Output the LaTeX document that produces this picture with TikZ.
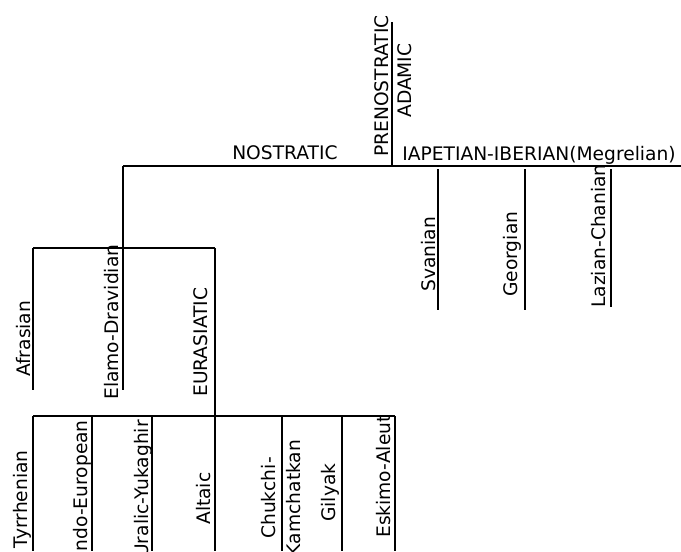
\documentclass[tikz,border=0pt]{standalone}
\usepackage{fontspec}
\setmainfont{DejaVu Sans}
\tikzset{
  lang/.style={inner sep=0pt, font=\fontsize{14}{16}\selectfont},
  vlang/.style={lang, rotate=90},
  branch/.style={line width=1.8pt},
}

\begin{document}
\begin{tikzpicture}[x=0.75pt,y=-0.75pt]
  \useasboundingbox (0,0) rectangle (681,551);
  \clip (0,0) rectangle (681,551);
  % junctions
  \coordinate (root) at (392,22);
  \coordinate (nost) at (392,166);
  \coordinate (nostL) at (123,166);
  \coordinate (nostR) at (681,166);
  \coordinate (mid) at (123,248);
  \coordinate (midL) at (33,248);
  \coordinate (midR) at (215,248);
  \coordinate (eur) at (215,416);
  \coordinate (eurL) at (33,416);
  \coordinate (eurR) at (395,416);
  % upper part
  \draw[branch] (root) -- (nost);
  \draw[branch] (nostL) -- (nostR);
  \draw[branch] (nostL) -- (mid);
  \draw[branch] (midL) -- (midR);
  \draw[branch] (midL) -- (33,390);
  \draw[branch] (mid) -- (123,390);
  \draw[branch] (midR) -- (eur);
  \draw[branch] (eurL) -- (eurR);
  % Kartvelian side
  \draw[branch] (438,169) -- (438,310);
  \draw[branch] (525,169) -- (525,310);
  \draw[branch] (611,169) -- (611,307);
  % lower leaves
  \foreach \x in {33,92,152,215,282,342,395}
    \draw[branch] (\x,416) -- (\x,551);
  % labels
  \node[vlang, anchor=base west] (pren) at (388,157) {PRENOSTRATIC};
  \node[vlang, anchor=base west] (adam) at (411,118) {ADAMIC};
  \node[lang, anchor=base west] (nosl) at (232,159) {NOSTRATIC};
  \node[lang, anchor=base west] (iape) at (402,160) {IAPETIAN-IBERIAN(Megrelian)};
  \node[vlang, anchor=base west] (afra) at (30,377) {Afrasian};
  \node[vlang, anchor=base west] (elam) at (118,400) {Elamo-Dravidian};
  \node[vlang, anchor=base west] (eura) at (207,397) {EURASIATIC};
  \node[vlang, anchor=base west] (svan) at (435,292) {Svanian};
  \node[vlang, anchor=base west] (geor) at (517,297) {Georgian};
  \node[vlang, anchor=base west] (lazi) at (605,308) {Lazian-Chanian};
  \node[vlang, anchor=base east] (tyrr) at (27,450) {Tyrrhenian};
  \node[vlang, anchor=base east] (indo) at (87,420) {Indo-European};
  \node[vlang, anchor=base east] (ural) at (148,420) {Uralic-Yukaghir};
  \node[vlang, anchor=base west] (alta) at (210,525) {Altaic};
  \node[vlang, align=center, font=\fontsize{14}{18.75}\selectfont] (chuk) at (281.5,498) {Chukchi-\\Kamchatkan};
  \node[vlang, anchor=base west] (gily) at (335,522) {Gilyak};
  \node[vlang, anchor=base west] (eski) at (390,538) {Eskimo-Aleut};
\end{tikzpicture}
\end{document}
